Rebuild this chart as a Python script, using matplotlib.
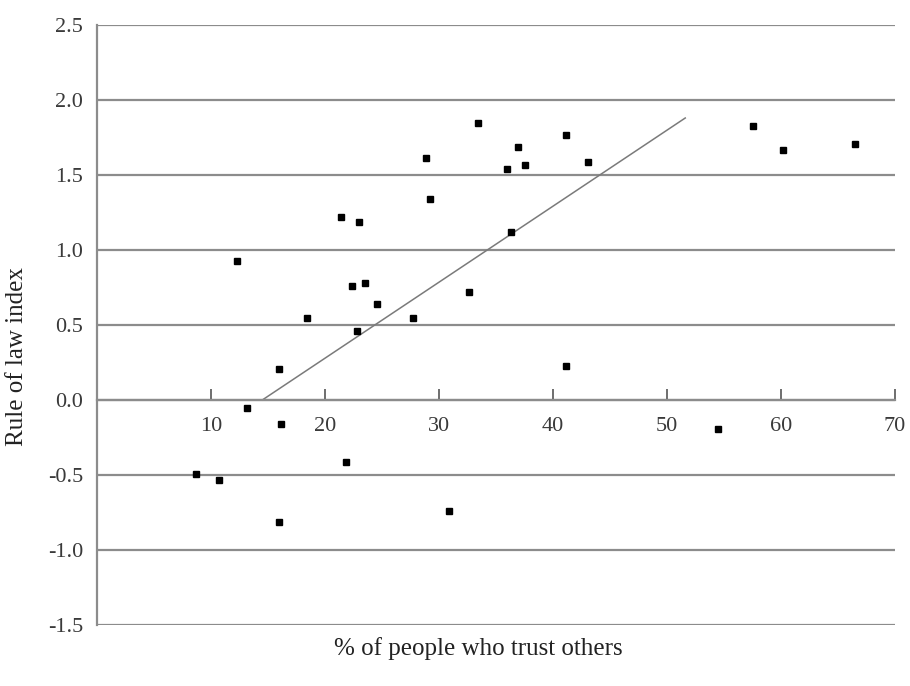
import matplotlib
matplotlib.use('Agg')
import matplotlib.pyplot as plt

# % of people who trust others vs rule of law index
trust = [8.7, 10.7, 12.3, 13.2, 16.0, 16.1, 16.0, 18.4, 21.4, 21.8, 22.4, 22.8,
         23.0, 23.5, 24.6, 27.7, 28.9, 29.2, 30.9, 32.6, 33.4, 36.0, 36.3, 36.9,
         37.5, 41.1, 41.1, 43.1, 54.5, 57.5, 60.2, 66.5]
rule_of_law = [-0.49, -0.53, 0.93, -0.05, 0.21, -0.16, -0.81, 0.55, 1.22, -0.41, 0.76, 0.46,
               1.19, 0.78, 0.64, 0.55, 1.61, 1.34, -0.74, 0.72, 1.85, 1.54, 1.12, 1.69,
               1.57, 1.77, 0.23, 1.59, -0.19, 1.83, 1.67, 1.71]

# fitted line end points
fit_x = [14.5, 51.6]
fit_y = [0.0, 1.88]

x_ticks = [10, 20, 30, 40, 50, 60, 70]
y_ticks = [-1.5, -1.0, -0.5, 0.0, 0.5, 1.0, 1.5, 2.0, 2.5]

plt.rcParams['font.family'] = ['Liberation Serif', 'DejaVu Serif']

fig = plt.figure(figsize=(9.1, 6.86), dpi=100, facecolor='white')
ax = fig.add_axes([97 / 910, 1 - 625 / 686, (895 - 97) / 910, 600 / 686])

grey = '#8c8c8c'
for yv in y_ticks:
    ax.axhline(yv, color=grey, linewidth=1.6, zorder=1)

ax.plot(fit_x, fit_y, color='#7a7a7a', linewidth=1.1, zorder=2)
ax.plot(trust, rule_of_law, 's', color='black', markersize=4.5, zorder=3)

ax.set_xlim(0, 70)
ax.set_ylim(-1.5, 2.5)

for side in ['top', 'right']:
    ax.spines[side].set_visible(False)
ax.spines['bottom'].set_position(('data', 0))
ax.spines['bottom'].set_color(grey)
ax.spines['bottom'].set_linewidth(1.6)
ax.spines['left'].set_color(grey)
ax.spines['left'].set_linewidth(1.6)

ax.set_xticks(x_ticks)
ax.set_xticklabels([str(v) for v in x_ticks])
ax.tick_params(axis='x', direction='in', length=8, width=1.2, color='#555555',
               pad=12, labelsize=16, labelcolor='#3a3a3a')
ax.set_yticks(y_ticks)
ax.set_yticklabels([f'{v:.1f}' for v in y_ticks])
ax.tick_params(axis='y', length=0, pad=10, labelsize=16, labelcolor='#3a3a3a')

ax.set_ylabel('Rule of law index', fontsize=18, color='#222222')
ax.yaxis.set_label_coords(-0.0865, 0.447)
fig.text(478 / 910, 1 - 649 / 686, '% of people who trust others', fontsize=18,
         color='#222222', ha='center', va='center')

fig.savefig('out.png', dpi=100)
